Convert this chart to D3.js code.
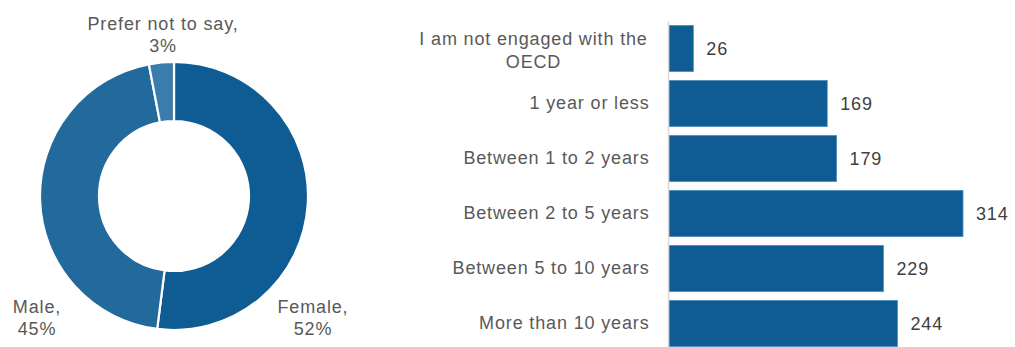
<!DOCTYPE html>
<html>
<head>
<meta charset="utf-8">
<script src="https://cdn.jsdelivr.net/npm/d3@7"></script>
<style>
  html, body { margin: 0; padding: 0; background: #fff; }
  svg text { font-family: "Liberation Sans", Arial, Helvetica, sans-serif; fill: #595959; letter-spacing: 0.85px; }
</style>
</head>
<body>
<svg id="chart" width="1015" height="347"></svg>
<script>
// Gender split of respondents (percent)
const genderLabels = ["Female", "Male", "Prefer not to say"];
const genderValues = [52, 45, 3];
const genderColors = ["#0f5c94", "#236a9c", "#3a7cab"];

// Length of engagement with the OECD (respondents)
const engagementCategories = [
  "I am not engaged with the OECD",
  "1 year or less",
  "Between 1 to 2 years",
  "Between 2 to 5 years",
  "Between 5 to 10 years",
  "More than 10 years"
];
const engagementValues = [26, 169, 179, 314, 229, 244];

const svg = d3.select("#chart");
const fontSize = 18;

// ---- Donut ----
const cx = 174, cy = 196, rOuter = 134, rInner = 75;
const pie = d3.pie().sort(null).value(d => d.value);
const arc = d3.arc().innerRadius(rInner).outerRadius(rOuter);
const donutData = genderLabels.map((l, i) => ({ label: l, value: genderValues[i], color: genderColors[i] }));

const donut = svg.append("g").attr("transform", `translate(${cx},${cy})`);
donut.selectAll("path")
  .data(pie(donutData))
  .join("path")
  .attr("d", arc)
  .attr("fill", d => d.data.color)
  .attr("stroke", "#fff")
  .attr("stroke-width", 2.2);

// Donut labels (two lines: name, share)
const donutLabelPos = {
  "Female": [313, 313],
  "Male": [37, 313],
  "Prefer not to say": [163, 30]
};
donutData.forEach(d => {
  const [x, y] = donutLabelPos[d.label];
  const t = svg.append("text")
    .attr("x", x).attr("y", y)
    .attr("text-anchor", "middle")
    .style("font-size", fontSize + "px");
  t.append("tspan").attr("x", x).text(d.label + ",");
  t.append("tspan").attr("x", x).attr("dy", 21.5).text(d.value + "%");
});

// ---- Horizontal bars ----
const x0 = 669;
const x = d3.scaleLinear().domain([0, 314]).range([x0, 963]);
const y = d3.scaleBand()
  .domain(engagementCategories)
  .range([21, 351])
  .paddingInner(0.16)
  .paddingOuter(0.08);

const bars = svg.append("g");
bars.selectAll("rect")
  .data(engagementValues)
  .join("rect")
  .attr("x", x(0))
  .attr("y", (d, i) => y(engagementCategories[i]))
  .attr("width", d => x(d) - x(0))
  .attr("height", y.bandwidth())
  .attr("fill", "#0e5c93")
  .attr("stroke", "#4f8fc0")
  .attr("stroke-width", 0.8);

// Value labels
bars.selectAll("text.value")
  .data(engagementValues)
  .join("text")
  .attr("class", "value")
  .attr("x", d => x(d) + 13)
  .attr("y", (d, i) => y(engagementCategories[i]) + y.bandwidth() / 2)
  .attr("dy", "0.35em")
  .style("font-size", fontSize + "px")
  .style("fill", "#404040")
  .text(d => d);

// Category axis
const axis = d3.axisLeft(y).tickSize(0).tickPadding(19);
const axisG = svg.append("g").attr("transform", `translate(${x0 - 0.5},0)`).call(axis);
axisG.select(".domain").attr("stroke", "#d9d9d9").attr("stroke-width", 1.5)
  .attr("d", "M0,21.5V347");
axisG.selectAll(".tick text")
  .style("font-size", fontSize + "px")
  .style("font-family", '"Liberation Sans", Arial, sans-serif')
  .attr("fill", "#595959")
  .each(function (d) {
    if (d === engagementCategories[0]) {
      const t = d3.select(this);
      t.text(null).attr("text-anchor", "middle").attr("dy", null);
      const lines = ["I am not engaged with the", "OECD"];
      t.append("tspan").attr("x", -135).attr("y", -3.7).text(lines[0]);
      t.append("tspan").attr("x", -135).attr("y", 19.6).text(lines[1]);
    }
  });
</script>
</body>
</html>
